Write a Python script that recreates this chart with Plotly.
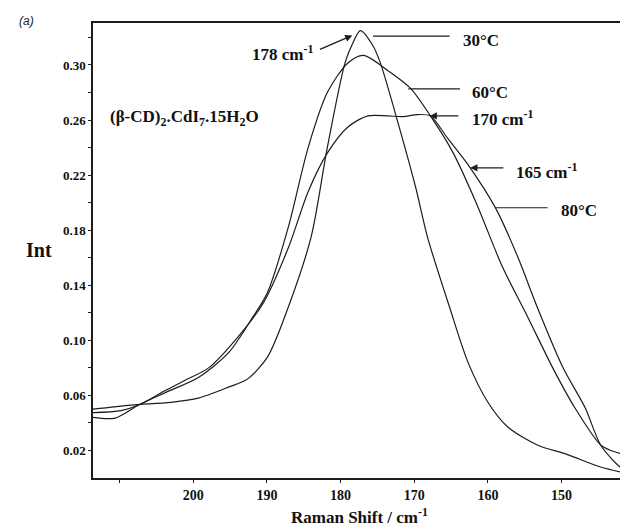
import plotly.graph_objects as go

# Raman shift (cm-1) and intensity
shift_30 = [213.6, 208.4, 203.0, 199.3, 195.2, 192.6, 189.9, 187.1, 184.0, 181.8,
            179.4, 178.5, 177.3, 175.6, 174.6, 172.2, 169.8, 168.2, 165.2, 162.7,
            160.0, 157.3, 153.3, 149.2, 144.7, 140.0]
int_30 = [0.050, 0.053, 0.055, 0.058, 0.066, 0.072, 0.088, 0.124, 0.175, 0.240,
          0.3015, 0.314, 0.325, 0.314, 0.3015, 0.258, 0.211, 0.175, 0.124, 0.084,
          0.055, 0.037, 0.024, 0.017, 0.008, 0.002]

shift_60 = [213.6, 210.6, 207.4, 203.8, 199.3, 195.2, 191.9, 189.9, 187.1, 184.4,
            181.8, 179.0, 176.9, 173.6, 170.5, 167.8, 164.7, 161.6, 158.0, 154.6,
            151.2, 148.2, 144.7, 143.3, 140.0]
int_60 = [0.0440, 0.0435, 0.053, 0.062, 0.073, 0.091, 0.117, 0.135, 0.182, 0.240,
          0.280, 0.3015, 0.307, 0.296, 0.283, 0.263, 0.236, 0.200, 0.153, 0.117,
          0.080, 0.051, 0.024, 0.020, 0.015]

shift_80 = [213.6, 209.8, 207.4, 203.8, 201.1, 197.9, 194.0, 190.5, 187.1, 184.4,
            181.8, 179.0, 176.3, 173.6, 171.6, 169.5, 167.8, 165.5, 162.4, 158.9,
            155.9, 153.3, 149.8, 146.8, 144.7, 142.0, 140.0]
int_80 = [0.0475, 0.049, 0.053, 0.0635, 0.071, 0.080, 0.102, 0.127, 0.167, 0.208,
          0.236, 0.255, 0.2630, 0.263, 0.2625, 0.2640, 0.263, 0.247, 0.2253, 0.1955,
          0.160, 0.124, 0.080, 0.051, 0.024, 0.0077, 0.002]

x_tickvals = [210, 200, 190, 180, 170, 160, 150]
x_ticktext = ["", "200", "190", "180", "170", "160", "150"]
y_tickvals = [0.02, 0.04, 0.06, 0.08, 0.10, 0.12, 0.14, 0.16, 0.18, 0.20,
              0.22, 0.24, 0.26, 0.28, 0.30, 0.32]
y_ticktext = ["0.02", "", "0.06", "", "0.10", "", "0.14", "", "0.18", "",
              "0.22", "", "0.26", "", "0.30", ""]

LC = "#1c1c1c"
SERIF = "Liberation Serif"

fig = go.Figure()
for xs, ys, name in [(shift_30, int_30, "30°C"), (shift_60, int_60, "60°C"), (shift_80, int_80, "80°C")]:
    fig.add_trace(go.Scatter(x=xs, y=ys, mode="lines", name=name,
                             line=dict(color=LC, width=1.2, shape="spline", smoothing=0.8),
                             showlegend=False))

fig.update_layout(
    width=628, height=526,
    margin=dict(l=85, r=0, t=15, b=56),
    paper_bgcolor="white", plot_bgcolor="white",
    xaxis=dict(range=[213.6, 139.9], tickvals=x_tickvals, ticktext=x_ticktext,
               showline=True, linecolor=LC, linewidth=1.5, mirror=True,
               ticks="outside", ticklen=3, tickcolor=LC, showgrid=False, zeroline=False,
               tickfont=dict(family=SERIF, size=14, color="#111", weight="bold")),
    yaxis=dict(range=[0.0, 0.3305], tickvals=y_tickvals, ticktext=y_ticktext,
               showline=True, linecolor=LC, linewidth=1.5,
               ticks="outside", ticklen=3, tickcolor=LC, showgrid=False, zeroline=False,
               tickfont=dict(family=SERIF, size=13, color="#111", weight="bold")),
)

ann = []
def text(x, y, t, size=17, xanchor="left", yanchor="middle", xref="x", yref="y"):
    ann.append(dict(x=x, y=y, xref=xref, yref=yref, text=t, showarrow=False,
                    xanchor=xanchor, yanchor=yanchor,
                    font=dict(family=SERIF, size=size, color="#111", weight="bold")))

def arrow(x0, y0, x1, y1):
    ann.append(dict(x=x1, y=y1, ax=x0, ay=y0, xref="x", yref="y", axref="x", ayref="y",
                    text="", showarrow=True, arrowhead=2, arrowsize=1.2, arrowwidth=1.2,
                    arrowcolor=LC))

shapes = []
def seg(x0, y0, x1, y1):
    shapes.append(dict(type="line", x0=x0, y0=y0, x1=x1, y1=y1, xref="x", yref="y",
                       line=dict(color=LC, width=1.2)))

# 178 cm-1
text(183.5, 0.3087, "178 cm<sup>-1</sup>", xanchor="right")
arrow(183.0, 0.3109, 178.4, 0.3215)
# 30°C
seg(175.6, 0.321, 165.2, 0.321)
text(163.7, 0.318, "30°C")
# 60°C
seg(170.8, 0.2826, 163.8, 0.2826)
text(162.4, 0.2797, "60°C")
# 170 cm-1
arrow(163.8, 0.263, 167.9, 0.263)
text(162.4, 0.2616, "170 cm<sup>-1</sup>")
# 165 cm-1
arrow(157.7, 0.2253, 162.4, 0.2253)
text(156.4, 0.2231, "165 cm<sup>-1</sup>")
# 80°C
seg(158.9, 0.1963, 151.9, 0.1963)
text(150.3, 0.194, "80°C")

# compound label
text(211.5, 0.2616, "(β-CD)<sub>2</sub>.CdI<sub>7</sub>.15H<sub>2</sub>O", size=17)

# axis titles
text(-0.1, 0.501, "Int", size=20, xanchor="center", xref="paper", yref="paper")
text(0.49, -0.083, "Raman Shift / cm<sup>-1</sup>", size=17, xanchor="center",
     yanchor="middle", xref="paper", yref="paper")
# panel label
ann.append(dict(x=-0.14, y=1.005, xref="paper", yref="paper", text="<i>(a)</i>",
                showarrow=False, xanchor="left", yanchor="middle",
                font=dict(family="Liberation Sans", size=12, color="#222")))

fig.update_layout(annotations=ann, shapes=shapes)
fig.write_html("out.html")
